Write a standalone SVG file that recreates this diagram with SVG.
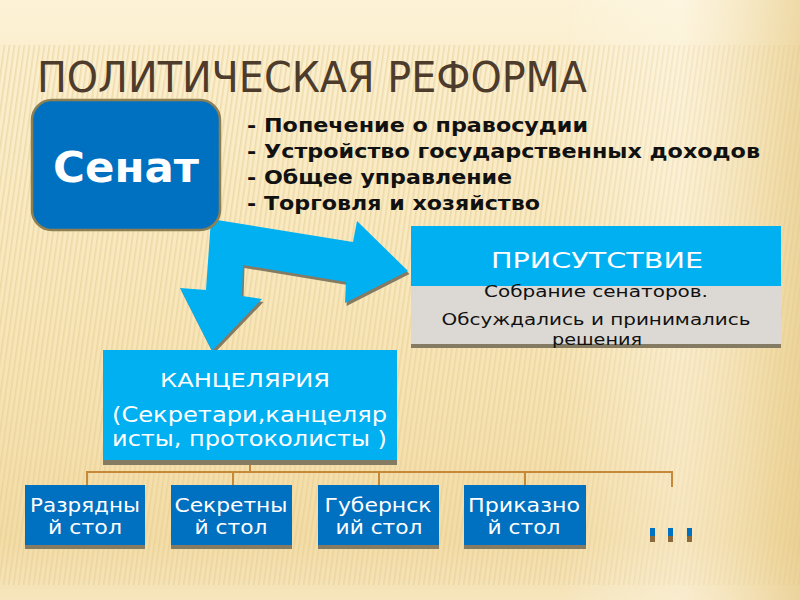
<svg xmlns="http://www.w3.org/2000/svg" width="800" height="600" viewBox="0 0 800 600">
<defs>
<linearGradient id="bg" x1="0" y1="0" x2="0" y2="1">
<stop offset="0" stop-color="#fcf2d6"/>
<stop offset="0.08" stop-color="#fbefcf"/>
<stop offset="0.5" stop-color="#f8e7bb"/>
<stop offset="0.9" stop-color="#f3dca6"/>
<stop offset="1" stop-color="#f6e5bd"/>
</linearGradient>
<linearGradient id="bgr" x1="0" y1="0" x2="1" y2="0">
<stop offset="0" stop-color="#ffffff" stop-opacity="0"/>
<stop offset="0.7" stop-color="#ffffff" stop-opacity="0"/>
<stop offset="0.85" stop-color="#fffaf0" stop-opacity="0.35"/>
<stop offset="0.97" stop-color="#e9cf92" stop-opacity="0.5"/>
<stop offset="1" stop-color="#e4c888" stop-opacity="0.6"/>
</linearGradient>
<pattern id="stripes" width="5" height="10" patternUnits="userSpaceOnUse" patternTransform="skewX(-8)">
<rect x="0" y="0" width="1.6" height="10" fill="#e3c98c" opacity="0.5"/>
</pattern>
<style>
.t{font-family:"DejaVu Sans","Liberation Sans",sans-serif;}
.blue{fill:#0070c0;}
.light{fill:#00b0f0;}
.shadow{fill:#857a62;}
.bul{font-family:"DejaVu Sans","Liberation Sans",sans-serif;font-weight:bold;font-stretch:condensed;font-size:20px;fill:#111;}
.desk{font-family:"DejaVu Sans","Liberation Sans",sans-serif;font-size:20px;fill:#ffffff;text-anchor:middle;}
.con{stroke:#c48a3a;stroke-width:2;fill:none;}
</style>
</defs>
<rect width="800" height="600" fill="url(#bg)"/>
<rect y="45" width="800" height="540" fill="url(#stripes)"/>
<rect width="800" height="600" fill="url(#bgr)"/>

<text class="t" x="37" y="92" font-size="42" fill="#4d3b2b" font-stretch="condensed" textLength="550" lengthAdjust="spacingAndGlyphs">ПОЛИТИЧЕСКАЯ РЕФОРМА</text>

<g id="bullets">
<text class="bul" x="247" y="132" textLength="341" lengthAdjust="spacingAndGlyphs">- Попечение о правосудии</text>
<text class="bul" x="247" y="158" textLength="513" lengthAdjust="spacingAndGlyphs">- Устройство государственных доходов</text>
<text class="bul" x="247" y="184" textLength="265" lengthAdjust="spacingAndGlyphs">- Общее управление</text>
<text class="bul" x="247" y="210" textLength="293" lengthAdjust="spacingAndGlyphs">- Торговля и хозяйство</text>
</g>

<g id="connectors">
<g id="double-arrow">
<polygon class="shadow" transform="translate(1.5,3)" points="211,219 353,242 357,221 408,271 345,303 346,282 243,265 242,296 262,299 212,351 180,288 206,290"/>
<polygon class="light" points="211,219 353,242 357,221 408,271 345,303 346,282 243,265 242,296 262,299 212,351 180,288 206,290"/>
</g>
<polyline class="con" points="250,462 250,472"/>
<polyline class="con" points="87,486 87,472 672,472 672,487"/>
<line class="con" x1="233" y1="472" x2="233" y2="486"/>
<line class="con" x1="379" y1="472" x2="379" y2="486"/>
<line class="con" x1="525" y1="472" x2="525" y2="486"/>
</g>

<g id="senat">
<rect x="32" y="100" width="188" height="130" rx="20" ry="20" fill="#0070c0" stroke="#8e7f52" stroke-width="2.5"/>
<text class="t" x="126" y="182" font-size="43" font-weight="bold" fill="#ffffff" text-anchor="middle" textLength="146" lengthAdjust="spacingAndGlyphs">Сенат</text>
</g>

<g id="prisutstvie">
<rect x="411" y="226" width="370" height="122" class="shadow"/>
<rect x="411" y="226" width="370" height="60" class="light"/>
<rect x="411" y="286" width="370" height="58" fill="#dcd9d4"/>
<text class="t" x="597" y="268" font-size="22" fill="#ffffff" text-anchor="middle" textLength="212" lengthAdjust="spacingAndGlyphs">ПРИСУТСТВИЕ</text>
<text class="t" x="596" y="297" font-size="15" fill="#111" text-anchor="middle" textLength="224" lengthAdjust="spacingAndGlyphs">Собрание сенаторов.</text>
<text class="t" x="596" y="325" font-size="15" fill="#111" text-anchor="middle" textLength="309" lengthAdjust="spacingAndGlyphs">Обсуждались и принимались</text>
<text class="t" x="597" y="345" font-size="15" fill="#111" text-anchor="middle" textLength="90" lengthAdjust="spacingAndGlyphs">решения</text>
</g>

<g id="kanceliaria">
<rect x="103" y="350" width="294" height="115" class="shadow"/>
<rect x="103" y="350" width="294" height="110" class="light"/>
<text class="t" x="245" y="387" font-size="20" fill="#ffffff" text-anchor="middle" textLength="170" lengthAdjust="spacingAndGlyphs">КАНЦЕЛЯРИЯ</text>
<text class="t" x="112" y="422" font-size="21" fill="#ffffff" textLength="275" lengthAdjust="spacingAndGlyphs">(Секретари,канцеляр</text>
<text class="t" x="112" y="446" font-size="21" fill="#ffffff" textLength="275" lengthAdjust="spacingAndGlyphs">исты, протоколисты )</text>
</g>

<g id="desk1">
<rect x="25" y="485" width="120" height="64" class="shadow"/>
<rect x="25" y="485" width="120" height="60" class="blue"/>
<text class="desk" x="85" y="512" textLength="110" lengthAdjust="spacingAndGlyphs">Разрядны</text>
<text class="desk" x="85" y="534" textLength="74" lengthAdjust="spacingAndGlyphs">й стол</text>
</g>
<g id="desk2">
<rect x="171" y="485" width="121" height="64" class="shadow"/>
<rect x="171" y="485" width="121" height="60" class="blue"/>
<text class="desk" x="231" y="512" textLength="113" lengthAdjust="spacingAndGlyphs">Секретны</text>
<text class="desk" x="231" y="534" textLength="73" lengthAdjust="spacingAndGlyphs">й стол</text>
</g>
<g id="desk3">
<rect x="318" y="485" width="121" height="64" class="shadow"/>
<rect x="318" y="485" width="121" height="60" class="blue"/>
<text class="desk" x="378" y="512" textLength="107" lengthAdjust="spacingAndGlyphs">Губернск</text>
<text class="desk" x="379" y="534" textLength="87" lengthAdjust="spacingAndGlyphs">ий стол</text>
</g>
<g id="desk4">
<rect x="464" y="485" width="122" height="64" class="shadow"/>
<rect x="464" y="485" width="122" height="60" class="blue"/>
<text class="desk" x="524" y="512" textLength="112" lengthAdjust="spacingAndGlyphs">Приказно</text>
<text class="desk" x="524" y="534" textLength="73" lengthAdjust="spacingAndGlyphs">й стол</text>
</g>
<g id="dots">
<rect x="650" y="528" width="5" height="8" class="blue"/>
<rect x="650" y="536" width="5" height="6" fill="#8a6a3a"/>
<rect x="668" y="528" width="5" height="8" class="blue"/>
<rect x="668" y="536" width="5" height="6" fill="#8a6a3a"/>
<rect x="687" y="528" width="5" height="8" class="blue"/>
<rect x="687" y="536" width="5" height="6" fill="#8a6a3a"/>
</g>
</svg>
